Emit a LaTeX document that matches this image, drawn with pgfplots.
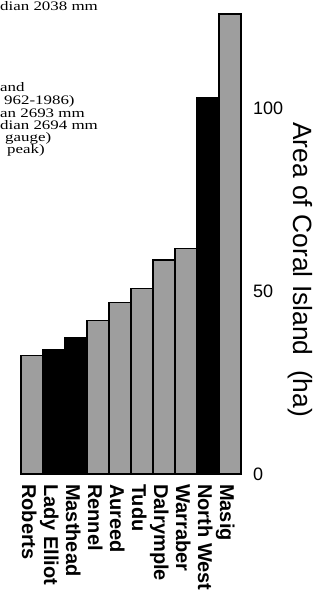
\documentclass[border=0pt]{standalone}
\usepackage{pgfplots}
\pgfplotsset{compat=1.18}
\usepackage{fontspec}
\setmainfont{Liberation Sans}
\newfontfamily\seriffont{Liberation Serif}
\usepackage{graphicx}
\begin{document}
\begin{tikzpicture}[x=1pt,y=1pt]
\path[use as bounding box] (0,0) rectangle (328,593);
\clip (0,0) rectangle (328,593);
\begin{axis}[
  at={(21pt,119pt)}, anchor=south west,
  scale only axis, width=220pt, height=472.1pt,
  xmin=-0.5, xmax=9.5, ymin=0, ymax=129,
  axis line style={draw=none},
  major tick length=0pt,
  xtick={-0.45,0.55,1.55,2.55,3.55,4.55,5.55,6.55,7.55,8.55},
  xticklabels={Roberts,Lady Elliot,Masthead,Rennel,Aureed,Tudu,Dalrymple,Warraber,North West,Masig},
  xticklabel style={rotate=-90, anchor=base west, inner xsep=10pt, inner ysep=0pt, font=\fontsize{20}{20}\selectfont\bfseries},
  ytick={0,50,100},
  yticklabel pos=right,
  yticklabel style={anchor=west, inner sep=0pt, xshift=12pt, font=\fontsize{18}{18}\selectfont},
  /pgf/number format/assume math mode=true,
  clip=false,
]
\addplot[ybar, bar width=22pt, bar shift=0pt, fill=black!38, draw=black, line width=1.3pt]
  coordinates {(0,32.3) (3,41.9) (4,46.8) (5,50.7) (6,58.5) (7,61.7) (9,125.7)};
\addplot[ybar, bar width=22pt, bar shift=0pt, fill=black, draw=black, line width=1.3pt]
  coordinates {(1,34.1) (2,37.2) (8,102.7)};
\end{axis}
\node[rotate=-90, anchor=base west, inner sep=0pt, font=\fontsize{26.4}{26}\selectfont] at (293,471) {Area of Coral Island\ \ (ha)};
\begin{scope}[every node/.style={anchor=base west, inner sep=0pt, font=\seriffont\fontsize{13}{13}\selectfont}]
\node at (0,582) {\scalebox{1.3}[1]{dian 2038 mm}};
\node at (0,501) {\scalebox{1.3}[1]{and}};
\node at (4,488) {\scalebox{1.3}[1]{962-1986)}};
\node at (0,475) {\scalebox{1.3}[1]{an 2693 mm}};
\node at (0,463) {\scalebox{1.3}[1]{dian 2694 mm}};
\node at (5,451) {\scalebox{1.3}[1]{gauge)}};
\node at (7,439) {\scalebox{1.3}[1]{peak)}};
\end{scope}
\end{tikzpicture}
\end{document}
